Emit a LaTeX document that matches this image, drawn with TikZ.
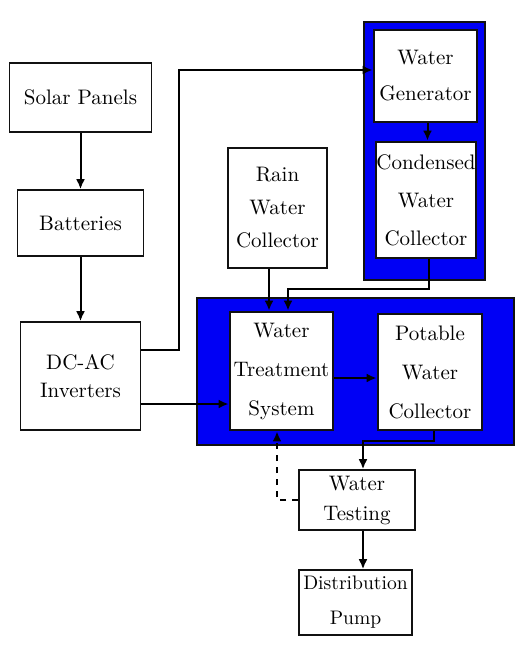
\documentclass[tikz,border=0pt]{standalone}
\usepackage{tikz}
\usepackage{xcolor}
\usetikzlibrary{arrows.meta}
\definecolor{tankblue}{HTML}{0000F5}
\definecolor{boxline}{HTML}{111111}

\begin{document}
\begin{tikzpicture}[x=0.5pt,y=-0.5pt,font=\fontsize{10.5}{18}\selectfont,
  unit/.style={draw=boxline,line width=0.8pt,fill=white,inner sep=0pt,align=center},
  inunit/.style={unit,line width=1.4pt},
  tank/.style={draw=boxline,line width=1pt,fill=tankblue,inner sep=0pt},
  flow/.style={line width=1pt,-{Latex[length=5pt,width=4.5pt]}}]
\useasboundingbox (0,0) rectangle (519,653);
\node[tank,minimum width=60.5pt,minimum height=129pt] (topbg) at (424.5,151) {};
\node[tank,minimum width=158.5pt,minimum height=73.5pt] (botbg) at (355.5,371.5) {};
\node[unit,minimum width=71pt,minimum height=34.5pt] (solar) at (80.5,97.5) {Solar Panels};
\node[unit,minimum width=63pt,minimum height=33pt] (batt) at (80.5,223) {Batteries};
\node[unit,minimum width=60pt,minimum height=54pt,font=\fontsize{10.5}{14}\selectfont] (inv) at (80.5,376) {DC-AC\\Inverters};
\node[unit,minimum width=49.5pt,minimum height=60pt,font=\fontsize{10.5}{16.5}\selectfont] (rain) at (277.5,208) {Rain\\Water\\Collector};
\node[inunit,minimum width=51.5pt,minimum height=46pt] (gen) at (425.5,76) {Water\\Generator};
\node[inunit,minimum width=50pt,minimum height=58pt,font=\fontsize{10.5}{19}\selectfont] (cond) at (426,200) {Condensed\\Water\\Collector};
\node[inunit,minimum width=51.5pt,minimum height=59pt,font=\fontsize{10.5}{19.5}\selectfont] (wts) at (281.5,371) {Water\\Treatment\\System};
\node[inunit,minimum width=52pt,minimum height=58pt,font=\fontsize{10.5}{19.5}\selectfont] (pot) at (430,372) {Potable\\Water\\Collector};
\node[unit,minimum width=58pt,minimum height=30pt,font=\fontsize{10.5}{15}\selectfont] (test) at (357,500) {Water\\Testing};
\node[unit,minimum width=56.5pt,minimum height=32.5pt,font=\fontsize{9.8}{17.5}\selectfont] (pump) at (355.5,602.5) {Distribution\\Pump};
\draw[flow] (solar.south) -- (batt.north);
\draw[flow] (batt.south) -- (inv.north);
\draw[flow] ([xshift=1pt]gen.south) -- ([xshift=1pt]gen.south |- cond.north);
\draw[flow] ([yshift=13pt]inv.east) -- ++(38,0) |- ([yshift=3pt]gen.west);
\draw[flow] ([yshift=-14pt]inv.east) -- ([yshift=-14pt]inv.east -| wts.west);
\draw[flow] ([xshift=-4.25pt]rain.south) -- ([xshift=-4.25pt]rain.south |- wts.north);
\draw[flow] ([xshift=1.5pt]cond.south) -- ++(0,30) -| ([xshift=3.25pt]wts.north);
\draw[flow] ([yshift=-3.5pt]wts.east) -- ([yshift=-3.5pt]wts.east -| pot.west);
\draw[flow] ([xshift=2pt]pot.south) -- ++(0,10) -| ([xshift=3pt]test.north);
\draw[flow,dashed] (test.west) -| ([xshift=-2.25pt]wts.south);
\draw[flow] ([xshift=3pt]test.south) -- ([xshift=3pt]test.south |- pump.north);
\end{tikzpicture}
\end{document}
